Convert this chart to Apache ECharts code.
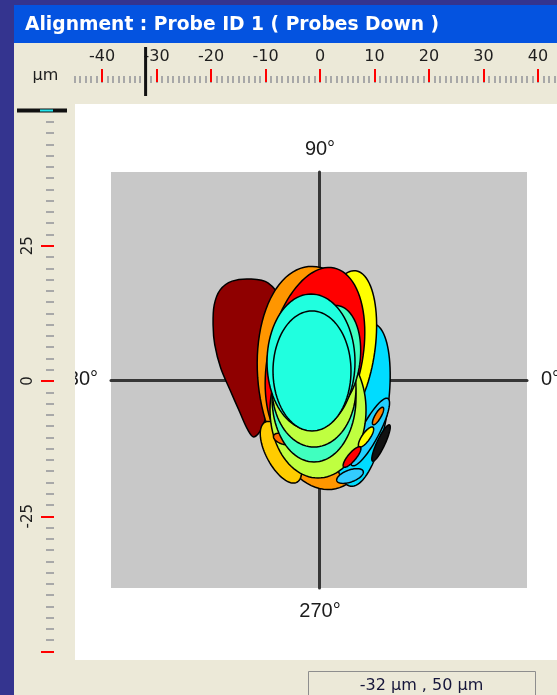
<!DOCTYPE html>
<html>
<head>
<meta charset="utf-8">
<title>Alignment : Probe ID 1</title>
<script src="https://cdn.jsdelivr.net/npm/echarts@6/dist/echarts.min.js"></script>
<style>
html, body { margin: 0; padding: 0; background: #34348f; }
#alignChart { width: 557px; height: 695px; }
</style>
</head>
<body>
<div id="alignChart"></div>
<script>
// cursor position (µm), shown by the ruler markers and the status box
var cursorX = -32;
var cursorY = 50;

// top ruler: a tick every µm, labels every 10 µm
var topRulerTicks = [];
for (var t = -45; t <= 43; t++) topRulerTicks.push(String(t));
var topRulerLabels = ['-40', '-30', '-20', '-10', '0', '10', '20', '30', '40'];

// left ruler: 12 ticks per 25 µm
var leftRulerMajors = ['-50', '-25', '0', '25', '50'];
var leftRulerLabels = ['-25', '0', '25'];
var leftRulerTicks = [];
for (var i = 0; i <= 48; i++) {
  var v = -50 + i * 25 / 12;
  leftRulerTicks.push(i % 12 === 0 ? String(Math.round(v)) : v.toFixed(2));
}

// polar plot labels
var angleLabels = ['0°', '90°', '180°', '270°'];

// dark red lobe (outline points, µm)
var eggX = [-9.4, -12.7, -16.0, -18.2, -19.3, -19.5, -19.2, -18.1, -16.4, -14.6, -13.1, -12.0, -10.5, -9.0, -7.9, -7.2];
var eggY = [17.9, 18.6, 18.2, 16.6, 13.8, 10.1, 6.5, 2.2, -1.8, -5.9, -9.2, -10.5, -8.8, -3.7, 5.5, 14.7];

// scrub contours, back to front (centre, half axes, tilt in degrees)
var blobCx = [0.18, -7.00, 7.92, 4.79, -0.74, 9.39, -0.18, -6.63, 11.42, 10.87, 8.66, 6.08, 5.71, -0.92, -0.92, 2.03, -1.47, -1.29];
var blobCy = [0.37, -13.30, -4.60, 5.89, 4.05, -9.58, -5.52, -10.87, -11.60, -6.63, -10.50, -14.18, -17.68, -3.31, -1.47, 3.68, 3.31, 1.66];
var blobRx = [11.42, 2.76, 4.79, 5.52, 8.66, 1.66, 8.84, 1.84, 0.75, 0.55, 0.74, 0.74, 2.58, 7.73, 7.73, 5.52, 8.10, 7.18];
var blobRy = [20.63, 6.26, 15.10, 14.36, 16.94, 7.00, 12.52, 0.92, 3.68, 1.84, 2.21, 2.39, 1.10, 11.79, 10.87, 10.13, 12.52, 11.05];
var blobTilt = [6, 28, -8, -8, -12, -28, 0, -20, -25, -30, -35, -40, 20, 0, 0, -8, 0, 0];

var blobFill = ['#ff9600', '#ffcc00', '#00dcff', '#ffff00', '#ff0000', '#22d0ff', '#bfff40', '#ff6a00', '#111111',
  '#ff8000', '#ffff00', '#ff0000', '#33ccff', '#40ffbf', '#bfff40', '#40ffbf', '#20ffdf', '#20ffdf'];
var eggFill = '#8f0000';

var chart = echarts.init(document.getElementById('alignChart'));

function drawEgg(params, api) {
  if (params.dataIndex !== 0) return null;
  var pts = eggX.map(function (x, k) { return api.coord([x, eggY[k]]); });
  return {
    type: 'polygon',
    shape: { points: pts, smooth: 0.35 },
    style: { fill: eggFill, stroke: '#000', lineWidth: 1.5 }
  };
}

function drawBlob(params, api) {
  var i = params.dataIndex;
  var a = blobTilt[i] * Math.PI / 180;
  var pts = [];
  for (var k = 0; k < 96; k++) {
    var th = 2 * Math.PI * k / 96;
    var ex = blobRx[i] * Math.cos(th), ey = blobRy[i] * Math.sin(th);
    pts.push(api.coord([
      api.value(0) + ex * Math.cos(a) - ey * Math.sin(a),
      api.value(1) + ex * Math.sin(a) + ey * Math.cos(a)
    ]));
  }
  return {
    type: 'polygon',
    z2: i,
    shape: { points: pts },
    style: { fill: blobFill[i], stroke: '#000', lineWidth: 1.5 }
  };
}

// black bar across the top ruler at the cursor x
function drawTopMarker(params, api) {
  var p = api.coord([api.value(0), 0]);
  var cs = params.coordSys;
  return {
    type: 'rect',
    shape: { x: p[0] - 1.5, y: cs.y - 35, width: 3, height: 49 },
    style: { fill: '#111' }
  };
}

// black bar (cyan centre) across the left ruler at the cursor y
function drawLeftMarker(params, api) {
  var p = api.coord([0, api.value(1)]);
  var cs = params.coordSys;
  return {
    type: 'group',
    children: [
      { type: 'rect', shape: { x: cs.x - 37, y: p[1] - 2, width: 50, height: 4 }, style: { fill: '#111' } },
      { type: 'rect', shape: { x: cs.x - 14, y: p[1] - 1, width: 13, height: 2 }, style: { fill: '#22e6ee' } }
    ]
  };
}

var hidden = { show: false };
var rulerFont = 'DejaVu Sans';

var option = {
  backgroundColor: '#34348f',
  animation: false,
  graphic: [
    { type: 'rect', z: -10, shape: { x: 14, y: 5, width: 543, height: 38 }, style: { fill: '#0453e0' } },
    { type: 'text', z: -9, x: 25, y: 25, style: { text: 'Alignment : Probe ID 1 ( Probes Down )', fill: '#fff', font: 'bold 18.7px "DejaVu Sans"', verticalAlign: 'middle' } },
    { type: 'rect', z: -10, shape: { x: 14, y: 43, width: 543, height: 652 }, style: { fill: '#ece9d8' } },
    { type: 'rect', z: -9, shape: { x: 75, y: 104, width: 482, height: 556 }, style: { fill: '#fff' } },
    { type: 'text', z: -8, x: 541, y: 379, style: { text: angleLabels[0], fill: '#1c1c1c', font: '20px "Liberation Sans"', align: 'left', verticalAlign: 'middle' } },
    { type: 'text', z: -8, x: 320, y: 149, style: { text: angleLabels[1], fill: '#1c1c1c', font: '20px "Liberation Sans"', align: 'center', verticalAlign: 'middle' } },
    { type: 'text', z: -8, x: 98, y: 379, style: { text: angleLabels[2], fill: '#1c1c1c', font: '20px "Liberation Sans"', align: 'right', verticalAlign: 'middle' } },
    { type: 'text', z: -8, x: 320, y: 611, style: { text: angleLabels[3], fill: '#1c1c1c', font: '20px "Liberation Sans"', align: 'center', verticalAlign: 'middle' } },
    { type: 'rect', z: -7, shape: { x: 14, y: 104, width: 61, height: 556 }, style: { fill: '#ece9d8' } },
    { type: 'text', z: -7, x: 45.5, y: 76, style: { text: 'µm', fill: '#1e1e1e', font: '16px "DejaVu Sans"', align: 'center', verticalAlign: 'middle' } },
    { type: 'rect', z: -7, shape: { x: 308.5, y: 671.5, width: 227, height: 30 }, style: { fill: '#ece9d8', stroke: '#8e8e8e', lineWidth: 1 } },
    { type: 'text', z: -6, x: 421.5, y: 686, style: { text: cursorX + ' µm , ' + cursorY + ' µm', fill: '#15153a', font: '16px "DejaVu Sans"', align: 'center', verticalAlign: 'middle' } }
  ],
  grid: [
    { left: 111, top: 172, width: 416, height: 416, show: true, backgroundColor: '#c8c8c8', borderWidth: 0 },
    { left: 74.75, top: 82, width: 479.6, height: 1 },
    { left: 54, top: 110.5, width: 13, height: 541 }
  ],
  xAxis: [
    {
      gridIndex: 0, type: 'value', min: -38.3, max: 38.3,
      axisLine: { onZero: true, lineStyle: { color: '#363636', width: 3 } },
      axisTick: hidden, axisLabel: hidden, splitLine: hidden
    },
    {
      gridIndex: 1, type: 'category', position: 'bottom', data: topRulerTicks, boundaryGap: false,
      axisLine: hidden, axisLabel: hidden, splitLine: hidden,
      axisTick: { show: true, inside: true, interval: 0, length: 7, lineStyle: { color: '#a8a8a8', width: 2 } }
    },
    {
      gridIndex: 1, type: 'category', position: 'top', data: topRulerTicks, boundaryGap: false,
      axisLine: hidden, splitLine: hidden,
      axisTick: {
        show: true, length: 13, lineStyle: { color: '#ff0000', width: 2 },
        interval: function (idx, val) { return topRulerLabels.indexOf(val) >= 0; }
      },
      axisLabel: {
        margin: 17, fontSize: 16, fontFamily: rulerFont, color: '#1e1e1e',
        interval: function (idx, val) { return topRulerLabels.indexOf(val) >= 0; }
      }
    },
    { gridIndex: 2, type: 'value', show: false }
  ],
  yAxis: [
    {
      gridIndex: 0, type: 'value', min: -38.3, max: 38.3,
      axisLine: { onZero: true, lineStyle: { color: '#363636', width: 3 } },
      axisTick: hidden, axisLabel: hidden, splitLine: hidden
    },
    { gridIndex: 1, type: 'value', show: false },
    {
      gridIndex: 2, type: 'category', position: 'left', data: leftRulerTicks, boundaryGap: false,
      axisLine: hidden, axisLabel: hidden, splitLine: hidden,
      axisTick: { show: true, interval: 0, length: 8, lineStyle: { color: '#a8a8a8', width: 2 } }
    },
    {
      gridIndex: 2, type: 'category', position: 'left', data: leftRulerTicks, boundaryGap: false,
      axisLine: hidden, splitLine: hidden,
      axisTick: {
        show: true, length: 13, lineStyle: { color: '#ff0000', width: 2 },
        interval: function (idx, val) { return leftRulerMajors.indexOf(val) >= 0; }
      },
      axisLabel: {
        rotate: 90, margin: 18, fontSize: 15, fontFamily: rulerFont, color: '#1e1e1e',
        interval: function (idx, val) { return leftRulerLabels.indexOf(val) >= 0; }
      }
    }
  ],
  series: [
    {
      type: 'custom', xAxisIndex: 0, yAxisIndex: 0, z: 2,
      renderItem: drawEgg,
      data: eggX.map(function (x, k) { return [x, eggY[k]]; })
    },
    {
      type: 'custom', xAxisIndex: 0, yAxisIndex: 0, z: 3,
      renderItem: drawBlob,
      data: blobCx.map(function (x, k) { return [x, blobCy[k]]; })
    },
    {
      type: 'custom', xAxisIndex: 2, yAxisIndex: 1, z: 4,
      renderItem: drawTopMarker,
      data: [[String(cursorX), 0]]
    },
    {
      type: 'custom', xAxisIndex: 3, yAxisIndex: 3, z: 4,
      renderItem: drawLeftMarker,
      data: [[0, String(cursorY)]]
    }
  ]
};

chart.setOption(option);
window.onresize = chart.resize;
</script>
</body>
</html>
